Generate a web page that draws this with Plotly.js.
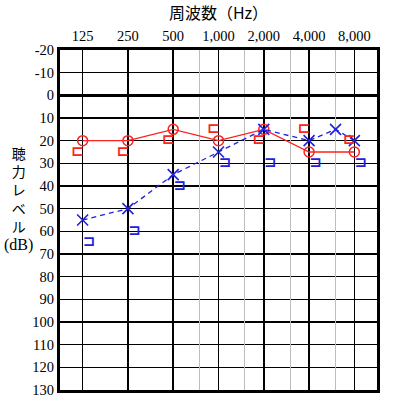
<!DOCTYPE html>
<html><head><meta charset="utf-8">
<script src="https://cdn.plot.ly/plotly-3.0.1.min.js"></script>
<style>body{margin:0;background:#fff}#c{width:397px;height:409px}</style>
</head><body><div id="c"></div>
<script>
const freqs = [125, 250, 500, 1000, 2000, 4000, 8000];
const freqLabels = ['125', '250', '500', '1,000', '2,000', '4,000', '8,000'];
const halfOctaves = [750, 1500, 3000, 6000];
const dbTicks = [-20,-10,0,10,20,30,40,50,60,70,80,90,100,110,120,130];
const dbLabels = ['-20','-10','0','10','20','30','40','50','60','70','80','90','100','110','120','130'];

// Right ear air conduction (O)
const rightAirFreq = [125, 250, 500, 1000, 2000, 4000, 8000];
const rightAir = [20, 20, 15, 20, 15, 25, 25];
// Left ear air conduction (X)
const leftAirFreq = [125, 250, 500, 1000, 2000, 4000, 6000, 8000];
const leftAir = [55, 50, 35, 25, 15, 20, 15, 20];
// Right bone conduction (⊏)
const rightBoneFreq = [125, 250, 500, 1000, 2000, 4000, 8000];
const rightBone = [25, 25, 20, 15, 20, 15, 20];
// Left bone conduction (⊐)
const leftBoneFreq = [125, 250, 500, 1000, 2000, 4000, 8000];
const leftBone = [65, 60, 40, 30, 30, 30, 30];

const RED = '#ff2020', BLUE = '#2020e0';
const leftShift = Math.pow(2, -5/45.3), rightShift = Math.pow(2, 6.5/45.3);
const serif = 'Liberation Serif, Times New Roman, serif';

const traces = [
  {x: rightAirFreq, y: rightAir, mode: 'lines+markers', type: 'scatter',
   line: {color: RED, width: 1.3},
   marker: {symbol: 'circle-open', size: 10, color: RED, line: {width: 1.5, color: RED}}},
  {x: leftAirFreq, y: leftAir, mode: 'lines+markers', type: 'scatter',
   line: {color: BLUE, width: 1.3, dash: '5px,4px'},
   marker: {symbol: 'x-thin-open', size: 11, color: BLUE, line: {width: 1.6, color: BLUE}}},
  {x: rightBoneFreq.map(f => f*leftShift), y: rightBone, mode: 'text', type: 'scatter',
   text: rightBoneFreq.map(() => '<b>⊏</b>'), textposition: 'middle center',
   textfont: {color: RED, size: 15, family: 'DejaVu Sans'}},
  {x: leftBoneFreq.map(f => f*rightShift), y: leftBone, mode: 'text', type: 'scatter',
   text: leftBoneFreq.map(() => '<b>⊐</b>'), textposition: 'middle center',
   textfont: {color: BLUE, size: 15, family: 'DejaVu Sans'}},
  {x: halfOctaves, y: halfOctaves.map(() => null), xaxis: 'x2', mode: 'markers', type: 'scatter', hoverinfo: 'skip'}
];

const xr = [Math.log10(125/Math.SQRT2), Math.log10(8000*Math.SQRT2)];
const layout = {
  width: 397, height: 409,
  margin: {l: 60, r: 20, t: 50, b: 19},
  showlegend: false,
  paper_bgcolor: '#fff', plot_bgcolor: '#fff',
  font: {family: serif, color: '#000', size: 14},
  xaxis2: {type: 'log', range: xr, overlaying: 'x', side: 'top',
    tickvals: halfOctaves, showticklabels: false, ticks: '',
    showgrid: true, gridcolor: '#bdbdbd', gridwidth: 1, showline: false, zeroline: false, layer: 'below traces'},
  xaxis: {type: 'log', range: xr, side: 'top',
    tickvals: freqs, ticktext: freqLabels, ticks: '',
    showgrid: true, gridcolor: '#000', gridwidth: 1.5,
    showline: true, linecolor: '#000', linewidth: 3, mirror: true,
    tickfont: {family: serif, size: 14.5, color: '#000'},
    title: {text: '周波数（Hz）', font: {family: 'Noto Sans CJK JP', size: 16, color: '#000'}, standoff: 6}},
  yaxis: {range: [130, -20], tickvals: dbTicks, ticktext: dbLabels, ticks: '',
    showgrid: true, gridcolor: '#000', gridwidth: 1.5,
    zeroline: true, zerolinecolor: '#000', zerolinewidth: 3,
    showline: true, linecolor: '#000', linewidth: 3, mirror: true,
    tickfont: {family: serif, size: 14.5, color: '#000'}},
  annotations: [{
    text: '聴<br>力<br>レ<br>ベ<br>ル<br><span style="font-family:Liberation Serif;font-size:16px">(dB)</span>',
    xref: 'paper', yref: 'paper', x: -0.132, y: 0.563, xanchor: 'center', yanchor: 'middle',
    showarrow: false, align: 'center',
    font: {family: 'Noto Sans CJK JP', size: 14, color: '#000'}
  }]
};
Plotly.newPlot('c', traces, layout, {displayModeBar: false, staticPlot: true});
</script></body></html>
